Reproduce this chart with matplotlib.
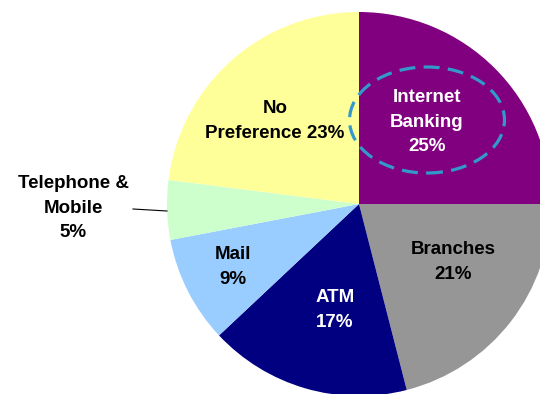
import matplotlib.pyplot as plt
from matplotlib.patches import Ellipse

# Anteile der Kanäle in Prozent (im Uhrzeigersinn ab 12 Uhr)
channels = ["Internet\nBanking", "Branches", "ATM", "Mail", "Telephone &\nMobile", "No\nPreference"]
shares = [25, 21, 17, 9, 5, 23]
separators = ["\n", "\n", "\n", "\n", "\n", " "]
colors = ["#800080", "#969696", "#000080", "#99CCFF", "#CCFFCC", "#FFFF99"]
text_colors = ["white", "black", "white", "black", "black", "black"]

# Beschriftungspositionen in Pixeln (x, y von oben)
label_pos = [(427, 122), (453, 262), (335, 310), (233, 267), (73, 208), (275, 121)]

W, H = 540, 394
fig = plt.figure(figsize=(W / 100, H / 100), dpi=100)
ax = fig.add_axes([0, 0, 1, 1])

cx, cy, r = 359, H - 204, 192
ax.pie(shares, colors=colors, startangle=90, counterclock=False,
       center=(cx, cy), radius=r, frame=True,
       wedgeprops=dict(linewidth=0))
ax.set_xlim(0, W)
ax.set_ylim(0, H)
ax.set_aspect("equal")
ax.axis("off")

for name, val, sep, tc, (x, y) in zip(channels, shares, separators, text_colors, label_pos):
    ax.text(x, H - y, f"{name}{sep}{val}%", ha="center", va="center",
            fontsize=13.5, fontweight="bold", family="Liberation Sans",
            color=tc, linespacing=1.55)

# Führungslinie für Telephone & Mobile
ax.plot([133, 167], [H - 209, H - 211], color="black", linewidth=0.8)

# gestrichelte Markierung um Internet Banking
ell = Ellipse((427, H - 120), 155, 106, fill=False, edgecolor="#3399CC",
              linewidth=2.3, linestyle=(0, (5, 2.6)))
ax.add_patch(ell)

fig.savefig("out.png", dpi=100)
